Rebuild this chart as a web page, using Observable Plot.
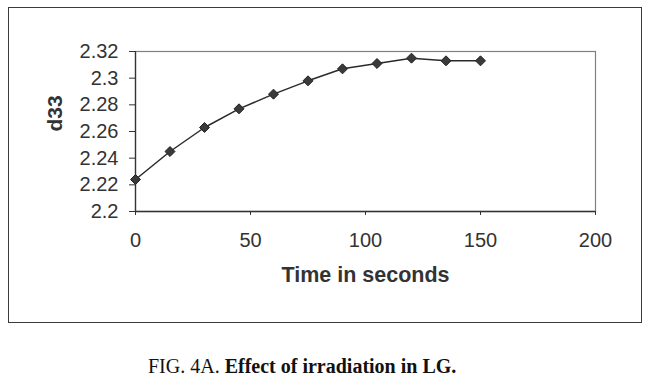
<!DOCTYPE html>
<html><head><meta charset="utf-8">
<script src="https://cdn.jsdelivr.net/npm/d3@7"></script>
<script src="https://cdn.jsdelivr.net/npm/@observablehq/plot@0.6"></script>
<style>
html,body{margin:0;padding:0;background:#fff;}
#wrap{position:relative;width:651px;height:386px;overflow:hidden;}
#box{position:absolute;left:8px;top:7px;width:632px;height:314px;border:1.5px solid #3a3a3a;box-sizing:content-box;}
#chart{position:absolute;left:0;top:0;}
#caption{position:absolute;left:148px;top:356px;font-family:"Liberation Serif","Times New Roman",serif;font-size:20px;line-height:1;color:#111;white-space:nowrap;}
</style></head>
<body><div id="wrap"><div id="box"></div><div id="chart"></div><div id="caption"><span>FIG. 4A.</span> <b>Effect of irradiation in LG.</b></div></div>
<script>
const time = [0, 15, 30, 45, 60, 75, 90, 105, 120, 135, 150];
const d33 = [2.224, 2.245, 2.263, 2.277, 2.288, 2.298, 2.307, 2.311, 2.315, 2.313, 2.313];
const xTicks = [0, 50, 100, 150, 200];
const yTicks = [2.2, 2.22, 2.24, 2.26, 2.28, 2.3, 2.32];
const xTitle = "Time in seconds";
const yTitle = "d33";
const data = time.map((t, i) => ({t, v: d33[i]}));
const fmt = d => String(+d.toFixed(2));
const chart = Plot.plot({
  width: 651, height: 330, marginLeft: 135, marginRight: 56, marginTop: 51, marginBottom: 119,
  style: {fontFamily: "'Liberation Sans', Arial, sans-serif", color: "#333", background: "transparent"},
  x: {domain: [0, 200]},
  y: {domain: [2.2, 2.32]},
  marks: [
    Plot.frame({stroke: "#808080", strokeWidth: 1.2}),
    Plot.axisX({ticks: xTicks, tickSize: 4, tickPadding: 17, fontSize: 20, label: null}),
    Plot.axisY({ticks: yTicks, tickSize: 6, tickPadding: 11, fontSize: 20, tickFormat: fmt, label: null}),
    Plot.ruleX([0], {stroke: "#333", strokeWidth: 1.3}),
    Plot.ruleY([2.2], {stroke: "#333", strokeWidth: 1.3}),
    Plot.line(data, {x: "t", y: "v", stroke: "#2a2a2a", strokeWidth: 1.5}),
    Plot.dot(data, {x: "t", y: "v", symbol: "diamond2", r: 4.5, fill: "#3a3a3a", stroke: "#222", strokeWidth: 1}),
    Plot.text([xTitle], {text: d => d, frameAnchor: "bottom", dy: 70, fontSize: 21.5, fontWeight: "bold", fill: "#333"}),
    Plot.text([yTitle], {text: d => d, frameAnchor: "left", dx: -80, rotate: -90, fontSize: 21, fontWeight: "bold", fill: "#333"})
  ]
});
document.getElementById("chart").appendChild(chart);
</script>
</body></html>
